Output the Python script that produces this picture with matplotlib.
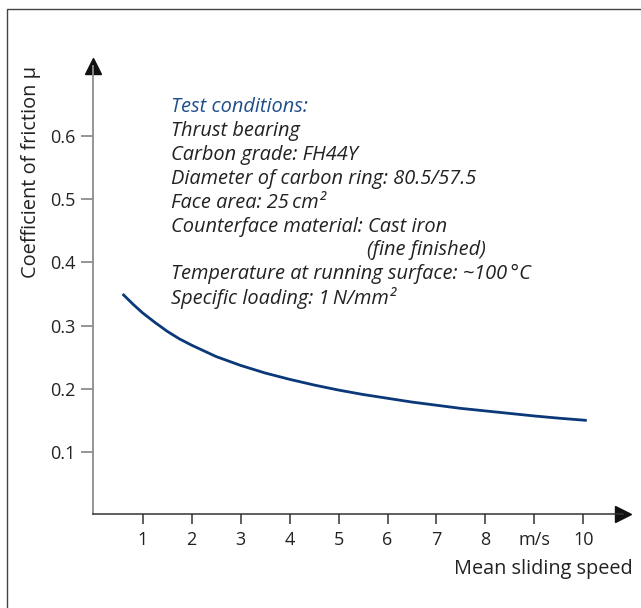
import numpy as np
import matplotlib.pyplot as plt
from matplotlib.patches import Rectangle

# Values
speed = [0.59, 0.8, 1.0, 1.25, 1.5, 1.75, 2.0, 2.5, 3.0, 3.5, 4.0, 4.5,
         5.0, 5.5, 6.0, 6.5, 7.0, 7.5, 8.0, 8.5, 9.0, 9.5, 10.07]
friction = [0.350, 0.334, 0.320, 0.305, 0.291, 0.279, 0.269, 0.251, 0.237,
            0.225, 0.215, 0.206, 0.198, 0.191, 0.185, 0.179, 0.174, 0.169,
            0.165, 0.161, 0.157, 0.1535, 0.150]

x_ticks = [1, 2, 3, 4, 5, 6, 7, 8, 9, 10]
x_tick_labels = ["1", "2", "3", "4", "5", "6", "7", "8", "m/s", "10"]
y_ticks = [0.1, 0.2, 0.3, 0.4, 0.5, 0.6]
y_tick_labels = ["0.1", "0.2", "0.3", "0.4", "0.5", "0.6"]

heading = "Test conditions:"
conditions = [
    "Thrust bearing",
    "Carbon grade: FH44Y",
    "Diameter of carbon ring: 80.5/57.5",
    "Face area: 25\u2009cm\u00b2",
    "Counterface material: Cast iron",
    "(fine finished)",
    "Temperature at running surface: ~100\u2009\u00b0C",
    "Specific loading: 1\u2009N/mm\u00b2",
]

plt.rcParams['font.family'] = ['Open Sans', 'DejaVu Sans']

W, H = 641, 608
fig = plt.figure(figsize=(W / 100, H / 100), dpi=100)

# outer frame, cut off at right and bottom
fig.patches.append(Rectangle((7 / W, -0.05), 1.1, 1 - 9 / H + 0.05,
                             transform=fig.transFigure, fill=False,
                             edgecolor="#444444", linewidth=1.0))

# axes box in pixels: left/bottom at the axis lines, right/top at arrow centres
left, bottom, right, top = 92.7, 513.5, 622.8, 65.5
ax = fig.add_axes([left / W, 1 - bottom / H, (right - left) / W, (bottom - top) / H])
px_x = 48.96   # pixels per m/s
px_y = 632.0   # pixels per unit of friction
ax.set_xlim(1 - (142.7 - left) / px_x, 1 + (right - 142.7) / px_x)
ax.set_ylim(0.1 - (bottom - 452) / px_y, 0.1 + (452 - top) / px_y)
ax.patch.set_alpha(0)

for s in ["top", "right"]:
    ax.spines[s].set_visible(False)
ax.spines["left"].set_color("#8c8c8c")
ax.spines["left"].set_linewidth(1.3)
ax.spines["bottom"].set_color("#333333")
ax.spines["bottom"].set_linewidth(1.1)

ax.set_xticks(x_ticks)
ax.set_xticklabels(x_tick_labels)
ax.set_yticks(y_ticks)
ax.set_yticklabels(y_tick_labels)
ax.tick_params(axis="x", color="#333333", width=1.1, length=7.5,
               labelsize=13, labelcolor="#222222", pad=5)
ax.tick_params(axis="y", color="#8c8c8c", width=1.3, length=8.5,
               labelsize=13, labelcolor="#222222", pad=4)

# arrow heads at the ends of the axes
xl, yl = ax.get_xlim(), ax.get_ylim()
ax.plot(xl[1], yl[0], marker=">", markersize=12, color="#111111", clip_on=False)
ax.plot(xl[0], yl[1], marker="^", markersize=12, color="#111111", clip_on=False)

ax.plot(speed, friction, color="#0a3878", linewidth=2.0, solid_capstyle="butt")

ax.set_ylabel("Coefficient of friction \u03bc", fontsize=14.4, color="#222222")
ax.yaxis.set_label_coords((41 - left) / (right - left), (bottom - 172) / (bottom - top))
fig.text(633 / W, 1 - 569 / H, "Mean sliding speed", ha="right", va="center",
         fontsize=14.3, color="#222222")

# test condition block
tx = 171 / W
fs = 14.4
fig.text(tx, 1 - 107 / H, heading, fontsize=fs, style="italic",
         color="#1f4e8c", va="center")
for i, line in enumerate(conditions):
    x = 367 / W if line.startswith("(") else tx
    fig.text(x, 1 - (131 + 23.9 * i) / H, line, fontsize=fs, style="italic",
             color="#222222", va="center")

fig.savefig("out.png", dpi=100)
